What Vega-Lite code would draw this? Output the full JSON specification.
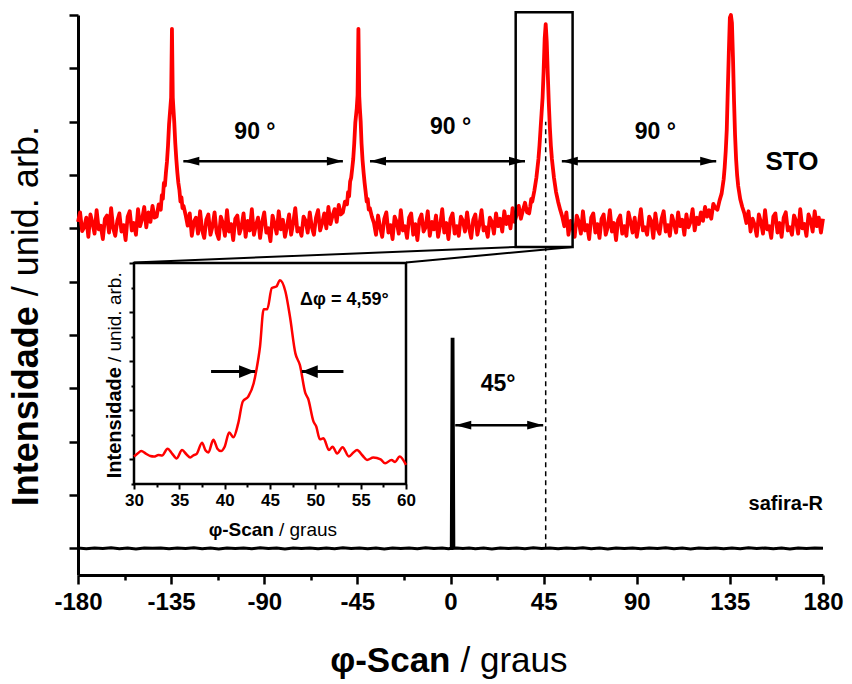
{
"$schema": "https://vega.github.io/schema/vega-lite/v6.json",
"width": 745, "height": 560,
"autosize": {"type": "none"},
"padding": {"left": 78, "top": 15, "right": 29, "bottom": 109},
"background": "white",
"config": {"view": {"stroke": null}, "font": "Liberation Sans", "text": {"font": "Liberation Sans", "color": "black"}},
"datasets": {
"sto": [
{"x":-180,"y":6.12},{"x":-179,"y":6.30},{"x":-178,"y":5.95},{"x":-177,"y":6.02},{"x":-176,"y":6.20},{"x":-175,"y":5.84},{"x":-174,"y":6.26},{"x":-173,"y":6.10},{"x":-172,"y":5.90},{"x":-171,"y":6.34},{"x":-170,"y":5.98},{"x":-169,"y":6.05},{"x":-168,"y":5.80},{"x":-167,"y":6.18},{"x":-166,"y":6.24},{"x":-165,"y":5.92},{"x":-164,"y":6.38},{"x":-163,"y":6.00},{"x":-162,"y":5.86},{"x":-161,"y":6.14},{"x":-160,"y":6.28},{"x":-159,"y":5.94},{"x":-158,"y":6.06},{"x":-157,"y":5.78},{"x":-156,"y":6.22},{"x":-155,"y":6.32},{"x":-154,"y":5.96},{"x":-153,"y":6.10},{"x":-152,"y":5.88},{"x":-151,"y":6.36},{"x":-150,"y":6.04},{"x":-149,"y":6.18},{"x":-148,"y":6.40},{"x":-147,"y":6.02},{"x":-146,"y":6.30},{"x":-145,"y":6.12},{"x":-144,"y":6.42},{"x":-143,"y":6.20},
{"x":-142,"y":6.22},{"x":-141,"y":6.45},{"x":-140,"y":6.35},{"x":-139.5,"y":6.62},{"x":-139,"y":6.55},{"x":-138.5,"y":6.85},{"x":-138,"y":6.80},{"x":-137.5,"y":7.05},{"x":-137,"y":7.25},{"x":-136.5,"y":7.55},{"x":-136,"y":7.95},{"x":-135.4,"y":8.25},{"x":-135,"y":8.45},{"x":-134.6,"y":9.74},{"x":-134.2,"y":8.45},{"x":-133.9,"y":8.25},{"x":-133.5,"y":8.00},{"x":-133,"y":7.60},{"x":-132.5,"y":7.30},{"x":-132,"y":7.05},{"x":-131.5,"y":6.85},{"x":-131,"y":6.72},{"x":-130.5,"y":6.50},{"x":-130,"y":6.58},{"x":-129.5,"y":6.38},{"x":-129,"y":6.42},{"x":-128,"y":6.25},
{"x":-127,"y":6.05},{"x":-126,"y":6.28},{"x":-125,"y":5.86},{"x":-124,"y":6.12},{"x":-123,"y":6.20},{"x":-122,"y":5.90},{"x":-121,"y":6.32},{"x":-120,"y":5.96},{"x":-119,"y":5.82},{"x":-118,"y":6.16},{"x":-117,"y":6.26},{"x":-116,"y":5.88},{"x":-115,"y":6.04},{"x":-114,"y":6.30},{"x":-113,"y":5.92},{"x":-112,"y":5.80},{"x":-111,"y":6.22},{"x":-110,"y":6.10},{"x":-109,"y":5.86},{"x":-108,"y":6.34},{"x":-107,"y":5.94},{"x":-106,"y":6.08},{"x":-105,"y":5.78},{"x":-104,"y":6.18},{"x":-103,"y":6.24},{"x":-102,"y":5.90},{"x":-101,"y":6.02},{"x":-100,"y":6.28},{"x":-99,"y":5.84},{"x":-98,"y":6.14},{"x":-97,"y":5.96},{"x":-96,"y":6.36},{"x":-95,"y":5.88},{"x":-94,"y":6.06},{"x":-93,"y":6.20},{"x":-92,"y":5.82},{"x":-91,"y":6.12},{"x":-90,"y":6.30},{"x":-89,"y":5.92},{"x":-88,"y":6.00},{"x":-87,"y":5.76},{"x":-86,"y":6.24},{"x":-85,"y":6.08},{"x":-84,"y":5.90},{"x":-83,"y":6.32},{"x":-82,"y":5.98},{"x":-81,"y":6.16},{"x":-80,"y":5.84},{"x":-79,"y":6.04},{"x":-78,"y":6.26},{"x":-77,"y":5.88},{"x":-76,"y":6.10},{"x":-75,"y":6.38},{"x":-74,"y":5.94},{"x":-73,"y":6.00},{"x":-72,"y":5.86},{"x":-71,"y":6.22},{"x":-70,"y":6.14},{"x":-69,"y":5.92},{"x":-68,"y":6.30},{"x":-67,"y":6.02},{"x":-66,"y":5.88},{"x":-65,"y":6.20},{"x":-64,"y":6.34},{"x":-63,"y":5.96},{"x":-62,"y":6.10},{"x":-61,"y":6.28},{"x":-60,"y":6.00},{"x":-59,"y":6.40},{"x":-58,"y":6.08},{"x":-57,"y":6.24},{"x":-56,"y":6.36},{"x":-55,"y":6.12},{"x":-54,"y":6.44},{"x":-53,"y":6.26},
{"x":-52,"y":6.30},{"x":-51,"y":6.50},{"x":-50,"y":6.45},{"x":-49.5,"y":6.68},{"x":-49,"y":6.60},{"x":-48.5,"y":6.88},{"x":-48,"y":6.95},{"x":-47.5,"y":7.12},{"x":-47,"y":7.30},{"x":-46.5,"y":7.60},{"x":-46,"y":7.98},{"x":-45.3,"y":8.25},{"x":-44.9,"y":8.50},{"x":-44.5,"y":9.74},{"x":-44.1,"y":8.48},{"x":-43.8,"y":8.25},{"x":-43.4,"y":8.00},{"x":-43,"y":7.60},{"x":-42.5,"y":7.28},{"x":-42,"y":7.05},{"x":-41.5,"y":6.85},{"x":-41,"y":6.68},{"x":-40.5,"y":6.50},{"x":-40,"y":6.55},{"x":-39.5,"y":6.35},{"x":-39,"y":6.38},{"x":-38,"y":6.22},
{"x":-37,"y":6.10},{"x":-36,"y":5.88},{"x":-35,"y":6.24},{"x":-34,"y":6.02},{"x":-33,"y":5.84},{"x":-32,"y":6.18},{"x":-31,"y":6.30},{"x":-30,"y":5.92},{"x":-29,"y":6.06},{"x":-28,"y":5.80},{"x":-27,"y":6.22},{"x":-26,"y":6.12},{"x":-25,"y":5.90},{"x":-24,"y":6.34},{"x":-23,"y":5.96},{"x":-22,"y":6.04},{"x":-21,"y":5.82},{"x":-20,"y":6.20},{"x":-19,"y":6.28},{"x":-18,"y":5.88},{"x":-17,"y":6.08},{"x":-16,"y":5.78},{"x":-15,"y":6.16},{"x":-14,"y":6.26},{"x":-13,"y":5.94},{"x":-12,"y":6.02},{"x":-11,"y":6.32},{"x":-10,"y":5.86},{"x":-9,"y":6.12},{"x":-8,"y":5.98},{"x":-7,"y":6.24},{"x":-6,"y":5.84},{"x":-5,"y":6.06},{"x":-4,"y":6.36},{"x":-3,"y":5.92},{"x":-2,"y":6.10},{"x":-1,"y":5.80},{"x":0,"y":6.18},{"x":1,"y":6.28},{"x":2,"y":5.90},{"x":3,"y":6.04},{"x":4,"y":5.86},{"x":5,"y":6.22},{"x":6,"y":6.14},{"x":7,"y":5.94},{"x":8,"y":6.30},{"x":9,"y":6.00},{"x":10,"y":5.82},{"x":11,"y":6.16},{"x":12,"y":6.26},{"x":13,"y":5.88},{"x":14,"y":6.08},{"x":15,"y":6.34},{"x":16,"y":5.96},{"x":17,"y":6.02},{"x":18,"y":5.84},{"x":19,"y":6.20},{"x":20,"y":6.12},{"x":21,"y":5.90},{"x":22,"y":6.28},{"x":23,"y":6.04},{"x":24,"y":6.18},{"x":25,"y":5.94},{"x":26,"y":6.32},{"x":27,"y":6.08},{"x":28,"y":6.22},{"x":29,"y":6.00},{"x":30,"y":6.38},{"x":31,"y":6.12},{"x":32,"y":6.26},{"x":33,"y":6.42},{"x":34,"y":6.18},{"x":35,"y":6.34},{"x":36,"y":6.48},{"x":37,"y":6.30},
{"x":38,"y":6.28},{"x":38.5,"y":6.40},{"x":39,"y":6.55},{"x":39.5,"y":6.50},{"x":40.5,"y":6.70},{"x":41.5,"y":6.95},{"x":42.5,"y":7.30},{"x":43,"y":7.55},{"x":43.5,"y":7.85},{"x":44,"y":8.15},{"x":44.5,"y":8.45},{"x":45,"y":8.95},{"x":45.5,"y":9.55},{"x":46,"y":9.83},{"x":46.5,"y":9.50},{"x":47,"y":8.90},{"x":47.5,"y":8.35},{"x":48,"y":7.90},{"x":48.5,"y":7.55},{"x":49,"y":7.30},{"x":50,"y":6.95},{"x":51,"y":6.68},{"x":52,"y":6.50},{"x":53,"y":6.35},
{"x":54,"y":6.22},{"x":55,"y":6.04},{"x":56,"y":6.30},{"x":57,"y":5.88},{"x":58,"y":6.14},{"x":59,"y":6.02},{"x":60,"y":5.84},{"x":61,"y":6.24},{"x":62,"y":6.12},{"x":63,"y":5.90},{"x":64,"y":6.32},{"x":65,"y":5.96},{"x":66,"y":6.06},{"x":67,"y":5.80},{"x":68,"y":6.20},{"x":69,"y":6.28},{"x":70,"y":5.92},{"x":71,"y":6.08},{"x":72,"y":5.82},{"x":73,"y":6.18},{"x":74,"y":6.26},{"x":75,"y":5.88},{"x":76,"y":6.02},{"x":77,"y":6.34},{"x":78,"y":5.94},{"x":79,"y":6.10},{"x":80,"y":5.78},{"x":81,"y":6.16},{"x":82,"y":6.24},{"x":83,"y":5.90},{"x":84,"y":6.04},{"x":85,"y":5.86},{"x":86,"y":6.30},{"x":87,"y":6.12},{"x":88,"y":5.92},{"x":89,"y":6.20},{"x":90,"y":5.84},{"x":91,"y":6.08},{"x":92,"y":6.36},{"x":93,"y":5.96},{"x":94,"y":6.02},{"x":95,"y":5.88},{"x":96,"y":6.22},{"x":97,"y":6.14},{"x":98,"y":5.82},{"x":99,"y":6.28},{"x":100,"y":6.00},{"x":101,"y":5.90},{"x":102,"y":6.18},{"x":103,"y":6.32},{"x":104,"y":5.94},{"x":105,"y":6.06},{"x":106,"y":5.86},{"x":107,"y":6.24},{"x":108,"y":6.10},{"x":109,"y":5.92},{"x":110,"y":6.30},{"x":111,"y":6.04},{"x":112,"y":6.16},{"x":113,"y":5.88},{"x":114,"y":6.26},{"x":115,"y":6.02},{"x":116,"y":6.12},{"x":117,"y":6.36},{"x":118,"y":5.96},{"x":119,"y":6.20},{"x":120,"y":6.08},{"x":121,"y":6.30},{"x":122,"y":6.14},{"x":123,"y":6.40},{"x":124,"y":6.22},{"x":125,"y":6.34},{"x":126,"y":6.18},{"x":127,"y":6.46},
{"x":128,"y":6.38},{"x":129,"y":6.35},{"x":130,"y":6.52},{"x":131,"y":6.65},{"x":132,"y":6.92},{"x":132.5,"y":7.15},{"x":133,"y":7.45},{"x":133.5,"y":7.85},{"x":134,"y":8.60},{"x":134.5,"y":9.30},{"x":135,"y":9.95},{"x":135.5,"y":10.0},{"x":136,"y":9.85},{"x":136.5,"y":9.20},{"x":137,"y":8.40},{"x":137.5,"y":7.75},{"x":138,"y":7.30},{"x":138.5,"y":7.00},{"x":139,"y":6.80},{"x":140,"y":6.55},{"x":141,"y":6.40},{"x":142,"y":6.28},
{"x":143,"y":6.10},{"x":144,"y":6.32},{"x":145,"y":5.94},{"x":146,"y":6.18},{"x":147,"y":6.06},{"x":148,"y":5.86},{"x":149,"y":6.26},{"x":150,"y":6.12},{"x":151,"y":5.90},{"x":152,"y":6.34},{"x":153,"y":5.98},{"x":154,"y":6.04},{"x":155,"y":5.82},{"x":156,"y":6.22},{"x":157,"y":6.28},{"x":158,"y":5.92},{"x":159,"y":6.10},{"x":160,"y":5.84},{"x":161,"y":6.20},{"x":162,"y":6.30},{"x":163,"y":5.96},{"x":164,"y":6.02},{"x":165,"y":5.88},{"x":166,"y":6.24},{"x":167,"y":6.14},{"x":168,"y":5.90},{"x":169,"y":6.36},{"x":170,"y":6.00},{"x":171,"y":6.08},{"x":172,"y":5.86},{"x":173,"y":6.26},{"x":174,"y":6.16},{"x":175,"y":5.94},{"x":176,"y":6.32},{"x":177,"y":6.04},{"x":178,"y":6.20},{"x":179,"y":5.92},{"x":180,"y":6.18}
],
"saf": [
{"x":-180,"y":0.004},{"x":-176,"y":-0.008},{"x":-172,"y":0.008},{"x":-168,"y":-0.004},{"x":-164,"y":0.012},{"x":-160,"y":-0.008},{"x":-156,"y":0.004},{"x":-152,"y":-0.012},{"x":-148,"y":0.008},{"x":-144,"y":0.0},{"x":-140,"y":0.008},{"x":-136,"y":-0.008},{"x":-132,"y":0.004},{"x":-128,"y":-0.004},{"x":-124,"y":0.012},{"x":-120,"y":-0.008},{"x":-116,"y":0.004},{"x":-112,"y":-0.012},{"x":-108,"y":0.008},{"x":-104,"y":-0.004},{"x":-100,"y":0.008},{"x":-96,"y":-0.008},{"x":-92,"y":0.012},{"x":-88,"y":-0.004},{"x":-84,"y":0.004},{"x":-80,"y":-0.012},{"x":-76,"y":0.008},{"x":-72,"y":-0.004},{"x":-68,"y":0.008},{"x":-64,"y":-0.008},{"x":-60,"y":0.004},{"x":-56,"y":-0.008},{"x":-52,"y":0.012},{"x":-48,"y":-0.004},{"x":-44,"y":0.008},{"x":-40,"y":-0.008},{"x":-36,"y":0.004},{"x":-32,"y":-0.012},{"x":-28,"y":0.008},{"x":-24,"y":-0.004},{"x":-20,"y":0.008},{"x":-16,"y":-0.008},{"x":-12,"y":0.012},{"x":-8,"y":-0.004},{"x":-4,"y":0.004},{"x":-1,"y":-0.008},{"x":0.4,"y":0.0},{"x":0.8,"y":3.92},{"x":1.2,"y":3.92},{"x":1.6,"y":0.0},{"x":3,"y":0.008},{"x":6,"y":-0.004},{"x":9,"y":0.008},{"x":12,"y":-0.008},{"x":16,"y":0.004},{"x":20,"y":-0.012},{"x":24,"y":0.008},{"x":28,"y":-0.004},{"x":32,"y":0.008},{"x":36,"y":-0.008},{"x":40,"y":0.012},{"x":44,"y":-0.004},{"x":48,"y":0.004},{"x":52,"y":-0.008},{"x":56,"y":0.008},{"x":60,"y":-0.004},{"x":64,"y":0.012},{"x":68,"y":-0.008},{"x":72,"y":0.004},{"x":76,"y":-0.012},{"x":80,"y":0.008},{"x":84,"y":-0.004},{"x":88,"y":0.008},{"x":92,"y":-0.008},{"x":96,"y":0.004},{"x":100,"y":-0.004},{"x":104,"y":0.012},{"x":108,"y":-0.008},{"x":112,"y":0.004},{"x":116,"y":-0.012},{"x":120,"y":0.008},{"x":124,"y":-0.004},{"x":128,"y":0.008},{"x":132,"y":-0.008},{"x":136,"y":0.004},{"x":140,"y":-0.008},{"x":144,"y":0.012},{"x":148,"y":-0.004},{"x":152,"y":0.008},{"x":156,"y":-0.008},{"x":160,"y":0.004},{"x":164,"y":-0.012},{"x":168,"y":0.008},{"x":172,"y":-0.004},{"x":176,"y":0.008},{"x":180,"y":0.0}
],
"ins": [
{"x":30.0,"y":1.06},{"x":30.4,"y":1.12},{"x":30.8,"y":1.17},{"x":31.3,"y":1.12},{"x":31.8,"y":1.07},{"x":32.2,"y":1.06},{"x":32.7,"y":1.09},{"x":33.1,"y":1.08},{"x":33.7,"y":1.22},{"x":34.2,"y":1.12},{"x":34.7,"y":1.02},{"x":35.3,"y":1.19},{"x":35.8,"y":1.10},{"x":36.2,"y":1.04},{"x":36.6,"y":1.09},{"x":36.9,"y":1.11},{"x":37.5,"y":1.34},{"x":37.9,"y":1.18},{"x":38.2,"y":1.14},{"x":38.75,"y":1.40},{"x":39.2,"y":1.22},{"x":39.6,"y":1.17},{"x":40.0,"y":1.26},{"x":40.5,"y":1.55},{"x":40.96,"y":1.45},{"x":41.5,"y":1.74},{"x":42.0,"y":2.18},{"x":42.6,"y":2.28},{"x":43.2,"y":2.55},{"x":43.5,"y":2.82},{"x":43.9,"y":3.30},{"x":44.3,"y":4.06},{"x":44.7,"y":4.06},{"x":45.2,"y":4.49},{"x":45.7,"y":4.52},{"x":46.1,"y":4.65},{"x":46.7,"y":4.42},{"x":47.2,"y":3.91},{"x":47.8,"y":3.16},{"x":48.3,"y":2.92},{"x":48.9,"y":2.35},{"x":49.2,"y":2.24},{"x":49.8,"y":1.77},{"x":50.1,"y":1.67},{"x":50.5,"y":1.41},{"x":50.9,"y":1.43},{"x":51.5,"y":1.19},{"x":51.9,"y":1.26},{"x":52.4,"y":1.12},{"x":53.0,"y":1.25},{"x":53.7,"y":1.06},{"x":54.2,"y":1.14},{"x":54.6,"y":1.19},{"x":55.2,"y":1.08},{"x":55.7,"y":0.99},{"x":56.4,"y":1.04},{"x":57.2,"y":1.00},{"x":57.7,"y":0.92},{"x":58.4,"y":0.99},{"x":58.8,"y":0.95},{"x":59.3,"y":1.06},{"x":60.0,"y":0.89}
],
"arr": [{"x":-129.1,"x2":-52,"y":7.26},{"x":-38.9,"x2":36,"y":7.26},{"x":53.8,"x2":128.4,"y":7.26},{"x":2.3,"x2":44.8,"y":2.31}],
"conn": [{"x":31.5,"y":5.65,"x2":-152.9,"y2":5.36},{"x":59,"y":5.65,"x2":-21.5,"y2":5.36}],
"lab": [{"x":-94.5,"y":7.8,"t":"90 °"},{"x":0,"y":7.9,"t":"90 °"},{"x":99,"y":7.8,"t":"90 °"},{"x":23,"y":3.08,"t":"45°"}],
"sto_lab": [{"x":165,"y":7.24,"t":"STO"}],
"saf_lab": [{"x":162,"y":0.83,"t":"safira-R"}],
"xt_b": [{"x":0,"y":-2.12,"t":"φ-Scan"}],
"xt_n": [{"x":0,"y":-2.12,"t":"/ graus"}],
"yt_b": [{"x":-204.6,"y":4.54,"t":"Intensidade"}],
"yt_n": [{"x":-204.6,"y":4.54,"t":"/ unid. arb."}],
"iarr": [{"x":38.5,"x2":43.35,"y":2.79,"d":"r"},{"x":53.1,"x2":48.5,"y":2.79,"d":"l"}],
"i_lab": [{"x":53.2,"y":4.25,"t":"Δφ = 4,59°"}],
"ixt_b": [{"x":45.44,"y":-0.44,"t":"φ-Scan"}],
"ixt_n": [{"x":45.44,"y":-0.44,"t":"/ graus"}],
"iyt_b": [{"x":27.9,"y":2.88,"t":"Intensidade"}],
"iyt_n": [{"x":27.9,"y":2.88,"t":"/ unid. arb."}]
},
"layer": [
{"layer": [
 {"data": {"name": "sto"}, "mark": {"type": "line", "color": "#ff0000", "strokeWidth": 3.8, "strokeJoin": "round"},
  "encoding": {
   "x": {"field": "x", "type": "quantitative", "scale": {"domain": [-180, 180], "nice": false, "zero": false},
     "axis": {"orient": "bottom", "values": [-180,-157.5,-135,-112.5,-90,-67.5,-45,-22.5,0,22.5,45,67.5,90,112.5,135,157.5,180],
       "labelExpr": "datum.value % 45 === 0 ? '' + datum.value : ''", "labelFont": "Liberation Sans", "labelFontSize": 24, "labelFontWeight": "bold", "labelColor": "black",
       "labelFlush": false, "labelOverlap": false, "labelPadding": 6, "tickColor": "black", "tickWidth": 2.5,
       "tickSize": {"condition": {"test": "datum.value % 45 === 0", "value": 9}, "value": 5},
       "domainColor": "black", "domainWidth": 3, "grid": false, "title": null}},
   "y": {"field": "y", "type": "quantitative", "scale": {"domain": [-0.5, 10], "nice": false, "zero": false},
     "axis": {"orient": "left", "values": [0,0.5,1,1.5,2,2.5,3,3.5,4,4.5,5,5.5,6,6.5,7,7.5,8,8.5,9,9.5,10], "labels": false,
       "tickColor": "black", "tickWidth": 2.5, "tickSize": {"condition": {"test": "datum.value % 1 === 0", "value": 9}, "value": 5},
       "domainColor": "black", "domainWidth": 3, "grid": false, "title": null}}}},
 {"data": {"name": "saf"}, "mark": {"type": "line", "color": "black", "strokeWidth": 3},
  "encoding": {"x": {"field": "x", "type": "quantitative"}, "y": {"field": "y", "type": "quantitative"}}},
 {"data": {"values": [{}]}, "mark": {"type": "rule", "color": "black", "strokeWidth": 1.5, "strokeDash": [5, 4]},
  "encoding": {"x": {"datum": 46}, "y": {"datum": 0}, "y2": {"datum": 8}}},
 {"data": {"values": [{}]}, "mark": {"type": "rect", "filled": false, "color": "black", "strokeWidth": 2.5},
  "encoding": {"x": {"datum": 31.5}, "x2": {"datum": 59}, "y": {"datum": 5.65}, "y2": {"datum": 10.05}}},
 {"data": {"name": "conn"}, "mark": {"type": "rule", "color": "black", "strokeWidth": 2},
  "encoding": {"x": {"field": "x", "type": "quantitative"}, "y": {"field": "y", "type": "quantitative"}, "x2": {"field": "x2"}, "y2": {"field": "y2"}}},
 {"data": {"name": "arr"}, "mark": {"type": "rule", "color": "black", "strokeWidth": 2.5},
  "encoding": {"x": {"field": "x", "type": "quantitative"}, "x2": {"field": "x2"}, "y": {"field": "y", "type": "quantitative"}}},
 {"data": {"name": "arr"}, "mark": {"type": "point", "filled": true, "color": "black", "opacity": 1, "size": 256, "strokeWidth": 0, "shape": "M0,0L2,-0.55L2,0.55Z"},
  "encoding": {"x": {"field": "x", "type": "quantitative"}, "y": {"field": "y", "type": "quantitative"}}},
 {"data": {"name": "arr"}, "mark": {"type": "point", "filled": true, "color": "black", "opacity": 1, "size": 256, "strokeWidth": 0, "shape": "M0,0L-2,-0.55L-2,0.55Z"},
  "encoding": {"x": {"field": "x2", "type": "quantitative"}, "y": {"field": "y", "type": "quantitative"}}},
 {"data": {"name": "lab"}, "mark": {"type": "text", "fontSize": 23, "fontWeight": "bold", "align": "center", "baseline": "middle"},
  "encoding": {"x": {"field": "x", "type": "quantitative"}, "y": {"field": "y", "type": "quantitative"}, "text": {"field": "t"}}},
 {"data": {"name": "sto_lab"}, "mark": {"type": "text", "fontSize": 26, "fontWeight": "bold", "align": "center", "baseline": "middle"},
  "encoding": {"x": {"field": "x", "type": "quantitative"}, "y": {"field": "y", "type": "quantitative"}, "text": {"field": "t"}}},
 {"data": {"name": "saf_lab"}, "mark": {"type": "text", "fontSize": 20, "fontWeight": "bold", "align": "center", "baseline": "middle"},
  "encoding": {"x": {"field": "x", "type": "quantitative"}, "y": {"field": "y", "type": "quantitative"}, "text": {"field": "t"}}},
 {"data": {"name": "xt_b"}, "mark": {"type": "text", "fontSize": 35, "fontWeight": "bold", "align": "right", "baseline": "middle"},
  "encoding": {"x": {"field": "x", "type": "quantitative"}, "y": {"field": "y", "type": "quantitative"}, "text": {"field": "t"}}},
 {"data": {"name": "xt_n"}, "mark": {"type": "text", "fontSize": 35, "fontWeight": "normal", "align": "left", "baseline": "middle", "dx": 10},
  "encoding": {"x": {"field": "x", "type": "quantitative"}, "y": {"field": "y", "type": "quantitative"}, "text": {"field": "t"}}},
 {"data": {"name": "yt_b"}, "mark": {"type": "text", "fontSize": 36, "fontWeight": "bold", "align": "right", "baseline": "middle", "angle": 270},
  "encoding": {"x": {"field": "x", "type": "quantitative"}, "y": {"field": "y", "type": "quantitative"}, "text": {"field": "t"}}},
 {"data": {"name": "yt_n"}, "mark": {"type": "text", "fontSize": 36, "fontWeight": "normal", "align": "left", "baseline": "middle", "angle": 270, "dx": 10},
  "encoding": {"x": {"field": "x", "type": "quantitative"}, "y": {"field": "y", "type": "quantitative"}, "text": {"field": "t"}}}
]},
{"layer": [
 {"data": {"values": [{}]}, "mark": {"type": "rect", "filled": false, "color": "black", "strokeWidth": 2.5},
  "encoding": {"x": {"datum": 30}, "x2": {"datum": 60}, "y": {"datum": 0.5}, "y2": {"datum": 5}}},
 {"data": {"name": "ins"}, "mark": {"type": "line", "color": "#ff0000", "strokeWidth": 2.5, "interpolate": "monotone"},
  "encoding": {
   "x": {"field": "x", "type": "quantitative", "scale": {"domain": [30, 60], "range": [56, 328], "nice": false, "zero": false},
     "axis": {"orient": "bottom", "offset": -91, "values": [30,32.5,35,37.5,40,42.5,45,47.5,50,52.5,55,57.5,60],
       "labelExpr": "datum.value % 5 === 0 ? '' + datum.value : ''", "labelFont": "Liberation Sans", "labelFontSize": 17, "labelFontWeight": "bold", "labelColor": "black",
       "labelFlush": false, "labelOverlap": false, "labelPadding": 3, "tickColor": "black", "tickWidth": 2,
       "tickSize": {"condition": {"test": "datum.value % 5 === 0", "value": 5}, "value": 3},
       "domain": false, "grid": false, "title": null}},
   "y": {"field": "y", "type": "quantitative", "scale": {"domain": [0.5, 5], "range": [469, 248], "nice": false, "zero": false},
     "axis": {"orient": "left", "offset": -56, "values": [0.5,1,1.5,2,2.5,3,3.5,4,4.5,5], "labels": false,
       "tickColor": "black", "tickWidth": 2, "tickSize": {"condition": {"test": "datum.value % 1 === 0", "value": 5}, "value": 3},
       "domain": false, "grid": false, "title": null}}}},
 {"data": {"name": "iarr"}, "mark": {"type": "rule", "color": "black", "strokeWidth": 3},
  "encoding": {"x": {"field": "x", "type": "quantitative"}, "x2": {"field": "x2"}, "y": {"field": "y", "type": "quantitative"}}},
 {"data": {"name": "iarr"}, "mark": {"type": "point", "filled": true, "color": "black", "opacity": 1, "size": 256, "strokeWidth": 0},
  "encoding": {"x": {"field": "x2", "type": "quantitative"}, "y": {"field": "y", "type": "quantitative"},
   "shape": {"field": "d", "type": "nominal", "scale": {"domain": ["r", "l"], "range": ["M0,0L-2,-0.8L-2,0.8Z", "M0,0L2,-0.8L2,0.8Z"]}, "legend": null}}},
 {"data": {"name": "i_lab"}, "mark": {"type": "text", "fontSize": 18, "fontWeight": "bold", "align": "center", "baseline": "middle"},
  "encoding": {"x": {"field": "x", "type": "quantitative"}, "y": {"field": "y", "type": "quantitative"}, "text": {"field": "t"}}},
 {"data": {"name": "ixt_b"}, "mark": {"type": "text", "fontSize": 19, "fontWeight": "bold", "align": "right", "baseline": "middle"},
  "encoding": {"x": {"field": "x", "type": "quantitative"}, "y": {"field": "y", "type": "quantitative"}, "text": {"field": "t"}}},
 {"data": {"name": "ixt_n"}, "mark": {"type": "text", "fontSize": 19, "fontWeight": "normal", "align": "left", "baseline": "middle", "dx": 5},
  "encoding": {"x": {"field": "x", "type": "quantitative"}, "y": {"field": "y", "type": "quantitative"}, "text": {"field": "t"}}},
 {"data": {"name": "iyt_b"}, "mark": {"type": "text", "fontSize": 20, "fontWeight": "bold", "align": "right", "baseline": "middle", "angle": 270},
  "encoding": {"x": {"field": "x", "type": "quantitative"}, "y": {"field": "y", "type": "quantitative"}, "text": {"field": "t"}}},
 {"data": {"name": "iyt_n"}, "mark": {"type": "text", "fontSize": 19, "fontWeight": "normal", "align": "left", "baseline": "middle", "angle": 270, "dx": 5},
  "encoding": {"x": {"field": "x", "type": "quantitative"}, "y": {"field": "y", "type": "quantitative"}, "text": {"field": "t"}}}
]}
],
"resolve": {"scale": {"x": "independent", "y": "independent"}}
}
